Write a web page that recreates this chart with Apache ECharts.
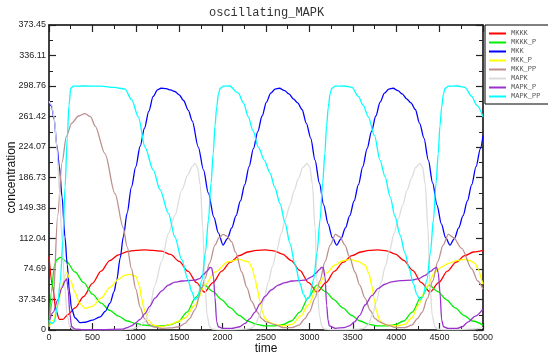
<!DOCTYPE html>
<html>
<head>
<meta charset="utf-8">
<title>oscillating_MAPK</title>
<script src="https://cdn.jsdelivr.net/npm/echarts@6/dist/echarts.min.js"></script>
<style>
    html, body { margin: 0; padding: 0; background: #fff; }
    #chart { width: 548px; height: 355px; }
</style>
</head>
<body>
<div id="chart"></div>
<script>
// values (time, concentration)
const mkkkT = [0,40,80,120,160,220,300,400,500,600,700,800,900,1000,1100,1200,1300,1400,1500,1600,1700,1790,1890,1990,2090,2190,2290,2390,2490,2590,2690,2790,2890,2990,3090,3190,3290,3390,3490,3590,3690,3790,3890,3990,4090,4190,4290,4390,4490,4590,4690,4790,4890,5000];
const mkkkV = [90,55,24,13,13,19,27,41,57,72,85,92,96,97.5,98,97.5,96.5,92.5,84,72,58,46.5,58,72,83,91,95.5,97.5,98,97,93,85,73,58,46.5,58,72,83,91,95.5,97.5,98,97,93,85,73,58,46.5,58,72,83,91,95.5,97.5];

const mkkkpT = [0,30,60,90,130,200,300,400,500,600,700,800,900,1000,1100,1200,1300,1400,1490,1590,1690,1790,1890,1990,2090,2190,2290,2390,2490,2590,2690,2790,2890,2990,3085,3185,3285,3385,3485,3585,3685,3785,3885,3985,4085,4185,4285,4380,4480,4580,4680,4780,4880,5000];
const mkkkpV = [5,48,78,86,89,84,71,58,44,33,24,17,11,8,6,5,5,6.5,10,22,40,55,47,37,27,18,11,7,5,5,6.5,11,22,40,55,47,37,27,18,11,7,5,5,6.5,11,22,40,55,47,37,27,18,11,6];

const mkkT = [0,30,60,90,120,150,184,210,235,260,300,357,420,500,588,650,703,750,780,820,856,900,950,1000,1050,1100,1150,1200,1250,1290,1350,1400,1450,1500,1550,1605,1650,1720,1780,1835,1900,1951,2005,
    2055,2105,2155,2205,2255,2305,2355,2405,2455,2505,2555,2605,2655,2715,2765,2815,2865,2915,2965,3015,3065,3115,3165,3215,3265,3315,
    3365,3415,3465,3515,3565,3615,3665,3715,3765,3815,3865,3915,3965,4020,4070,4120,4170,4220,4270,4320,4370,4420,4470,4520,4570,4620,
    4670,4720,4770,4820,4870,4920,4970,5000];
const mkkV = [280,274,258,226,200,163,114,80,48,26,15,9,9.5,12,16,23,33,47,61,88,114,143,175,200,225,247,268,286,294,296,295.5,294,292,288,281,269,256,224,196,168,138,119,104,
    112,125,140,158,178,200,222,243,262,279,290,295,296,293,289,283,278,270,253,235,208,180,153,130,113,104,
    112,125,140,158,178,200,222,243,262,279,290,295,296,293,289,283,278,270,253,235,208,180,153,130,113,104,
    112,125,140,158,178,200,222,238];

const mkkpT = [0,50,100,150,204,250,300,350,415,500,600,700,800,870,933,1000,1040,1068,1090,1106,1144,1200,1300,1400,1500,1567,1682,1797,1912,2066,2190,2296,2340,2373,2400,2431,2460,2488,2550,2604,2700,2800,2900,2988,3084,3200,3295,3380,3468,3560,3641,3690,3718,3745,3775,3805,3833,3900,4000,4100,4180,4255,4350,4447,4520,4601,4700,4793,4860,4908,4950,4985,5000];
const mkkpV = [4,12,30,55,70.6,60,46,33,26.5,29,39,52,62,67,68,66,55,39,28,22,12,6,4,7,11,14.7,30.6,55,71,83.6,86.5,83.6,76,63,50,34.7,22,14,9,7,5,7,17,30.6,51,70,79.6,84.5,86.5,84,79.6,68,55,38,22,13,8,6,5,7,15,30.6,52,71,77,81.6,85,86.5,84.5,81.6,74,61,56];

const mkkppT = [0,50,100,150,200,260,340,415,480,530,645,760,856,900,950,1000,1050,1100,1150,1200,1300,1400,1500,1567,1620,1682,1759,1797,1850,1912,1960,2005,2050,2104,2150,2220,2280,2335,2400,2450,2500,2604,2700,2800,2880,2949,3000,3065,3120,3180,3240,3300,3350,3410,3460,3525,3580,3641,3700,3756,3810,3900,4000,4100,4180,4245,4300,4360,4420,4480,4540,4601,4660,4754,4870,4940,5000];
const mkkppV = [5,40,140,205,237,253,262,265,261,250,216,167,125,102,75,50,28,14,7,4,2,2.5,4,8,14,25,51,63,82,104,113,117,115,108,95,71,52,35,22,14,10,6.6,3,3,6,14,22,39,60,83.6,104,117,114,104,90,71,55,39,24,14,10,6,3,3,6,14,22,39,60,84,104,117,113,100,75,60,50];

const mapkT = [0,30,60,90,120,150,180,210,240,280,400,600,800,950,1000,1050,1100,1150,1221,1298,1375,1450,1529,1600,1650,1682,1712,1742,1772,1797,1822,1850,1880,1950,2100,2250,2325,2375,2425,2475,2525,2575,2625,2675,2725,2775,2825,2875,2925,2975,3005,3035,3065,3090,3115,3145,3175,3250,3400,3550,3625,3675,3725,3775,3825,3875,3925,3975,4025,4075,4125,4175,4225,4275,4305,4335,4365,4390,4415,4445,4475,4550,4700,4850,5000];
const mapkV = [280,276,260,225,170,110,55,18,4,1,0.5,0.5,0.5,1,2.5,5,10,22,55,84,118,140,171,190,200,204,199,178,125,55,18,4,1,0.5,0.5,1,2,6,18,36,58,78,98,118,136,153,171,186,199,204,199,178,125,55,18,4,1,0.5,0.5,1,2,6,18,36,58,78,98,118,136,153,171,186,199,204,199,178,125,55,18,4,1,0.5,0.5,1,3];

const mapkpT = [0,50,100,150,185,204,222,240,261,300,400,600,850,900,950,991,1050,1106,1160,1221,1300,1375,1450,1529,1600,1682,1735,1780,1820,1855,1874,1895,1912,1932,1951,2000,2100,2200,2258,2315,2373,2430,2488,2560,2642,2720,2796,2870,2949,3026,3080,3115,3140,3160,3180,3199,3215,3230,3300,3400,3460,3520,3580,3641,3720,3794,3870,3948,4050,4178,4260,4332,4400,4440,4466,4485,4505,4524,4545,4600,4700,4760,4830,4910,5000];
const mapkpV = [10,22,37,52,60,63,48,20,4,1,0.5,0.5,1,3,5,8,13,20,29,39,48,55,58.5,60,60.5,61,63,68,72,76.5,76,65,40,10,4,2,2,4,8,14,22,32,41,49,55,58,60,60.5,61,65,70,74,76.5,76,65,30,12,5,2,3,5,10,18,30.6,42,51,56,59,60.5,61,63,67,72,75.5,76.5,70,45,12,4,2,2,4,10,17,26];

const mapkppT = [0,30,60,100,130,160,185,210,230,250,280,400,600,750,875,952,1029,1106,1200,1279,1375,1450,1529,1600,1644,1682,1712,1762,1802,1837,1867,1892,1912,1932,1952,1972,2012,2080,2181,2240,2296,2350,2412,2480,2546,2600,2661,2720,2776,2835,2892,2930,2968,2998,3048,3088,3123,3153,3178,3198,3218,3238,3258,3298,3400,3490,3564,3620,3679,3750,3813,3871,3930,3986,4045,4101,4150,4197,4240,4274,4304,4354,4394,4429,4459,4484,4504,4524,4544,4564,4604,4700,4790,4870,4930,5000];
const mapkppV = [12,8,10,30,60,110,175,235,275,296,298.5,298.76,298.5,297,295,282,261,224,196,172,143,114,86,62,47,37,40,61,95,135,180,216,250,273,289,296,298.5,298.76,290,278,261,244,224,208,192,175,155,131,106,80,57,44,37,40,61,95,135,180,216,250,273,289,296,298.5,298.76,297,286,275,261,238,208,188,163,139,116,94,75,57,43,37,40,61,95,135,180,216,250,273,289,296,298.5,298.76,297,286,275,261];

const seriesNames = ['MKKK', 'MKKK_P', 'MKK', 'MKK_P', 'MKK_PP', 'MAPK', 'MAPK_P', 'MAPK_PP'];
const seriesColors = ['#ff0000', '#00ee00', '#0000ff', '#ffff00', '#bc8f8f', '#dcdcdc', '#9932cc', '#00ffff'];
const seriesTimes = [mkkkT, mkkkpT, mkkT, mkkpT, mkkppT, mapkT, mapkpT, mapkppT];
const seriesValues = [mkkkV, mkkkpV, mkkV, mkkpV, mkkppV, mapkV, mapkpV, mapkppV];

const yStep = 37.345;
const yLabels = ['0', '37.345', '74.69', '112.04', '149.38', '186.73', '224.07', '261.42', '298.76', '336.11', '373.45'];

const myChart = echarts.init(document.getElementById('chart'));

const frameLine = { show: true, onZero: false, lineStyle: { color: '#000', width: 1.5 } };
const majorTick = { show: true, inside: true, length: 7, lineStyle: { color: '#222', width: 1.2 } };
const minorTick = { show: true, splitNumber: 2, length: 4, lineStyle: { color: '#222', width: 1 } };
const labelFont = { color: '#222', fontSize: 9, fontFamily: 'Liberation Sans' };

const option = {
    animation: false,
    backgroundColor: '#fff',
    title: {
        text: 'oscillating_MAPK',
        left: 204,
        top: 2,
        textStyle: {
            fontFamily: 'Liberation Mono',
            fontSize: 12,
            fontWeight: 'normal',
            color: '#333',
        },
    },
    legend: {
        data: seriesNames,
        orient: 'vertical',
        left: 485,
        top: 25,
        padding: [4, 30, 3, 4],
        itemGap: 0,
        itemWidth: 17,
        itemHeight: 2,
        itemTextGap: 9,
        icon: 'rect',
        borderColor: '#000',
        borderWidth: 1,
        backgroundColor: '#fff',
        textStyle: {
            fontFamily: 'Liberation Mono',
            fontSize: 7,
            lineHeight: 9,
            color: '#555',
        },
    },
    grid: {
        left: 49,
        right: 65,
        top: 25,
        bottom: 25,
        containLabel: false,
        outerBoundsMode: 'none',
    },
    xAxis: [
        {
            type: 'value',
            min: 0,
            max: 5000,
            interval: 500,
            position: 'bottom',
            axisLine: frameLine,
            axisTick: majorTick,
            minorTick: minorTick,
            splitLine: { show: false },
            axisLabel: { ...labelFont, margin: 3, formatter: (v) => String(v) },
            name: 'time',
            nameLocation: 'middle',
            nameGap: 13,
            nameMoveOverlap: false,
            nameTextStyle: { fontSize: 12, color: '#111', fontFamily: 'Liberation Sans' },
        },
        {
            type: 'value',
            min: 0,
            max: 5000,
            interval: 500,
            position: 'top',
            axisLine: frameLine,
            axisTick: majorTick,
            minorTick: minorTick,
            splitLine: { show: false },
            axisLabel: { show: false },
        },
    ],
    yAxis: [
        {
            type: 'value',
            min: 0,
            max: 373.45,
            interval: yStep,
            position: 'left',
            axisLine: frameLine,
            axisTick: majorTick,
            minorTick: minorTick,
            splitLine: { show: false },
            axisLabel: {
                ...labelFont,
                margin: 3,
                formatter: (v) => yLabels[Math.round(v / yStep)],
            },
            name: 'concentration',
            nameLocation: 'middle',
            nameGap: 31,
            nameMoveOverlap: false,
            nameTextStyle: { fontSize: 12, color: '#111', fontFamily: 'Liberation Sans' },
        },
        {
            type: 'value',
            min: 0,
            max: 373.45,
            interval: yStep,
            position: 'right',
            axisLine: frameLine,
            axisTick: majorTick,
            minorTick: minorTick,
            splitLine: { show: false },
            axisLabel: { show: false },
        },
    ],
    series: seriesNames.map((name, i) => ({
        name: name,
        type: 'line',
        color: seriesColors[i],
        showSymbol: false,
        smooth: 0.3,
        smoothMonotone: 'x',
        lineStyle: { width: 1.3 },
        data: seriesTimes[i].map((t, j) => [t, seriesValues[i][j]]),
    })),
};

myChart.setOption(option);
</script>
</body>
</html>
